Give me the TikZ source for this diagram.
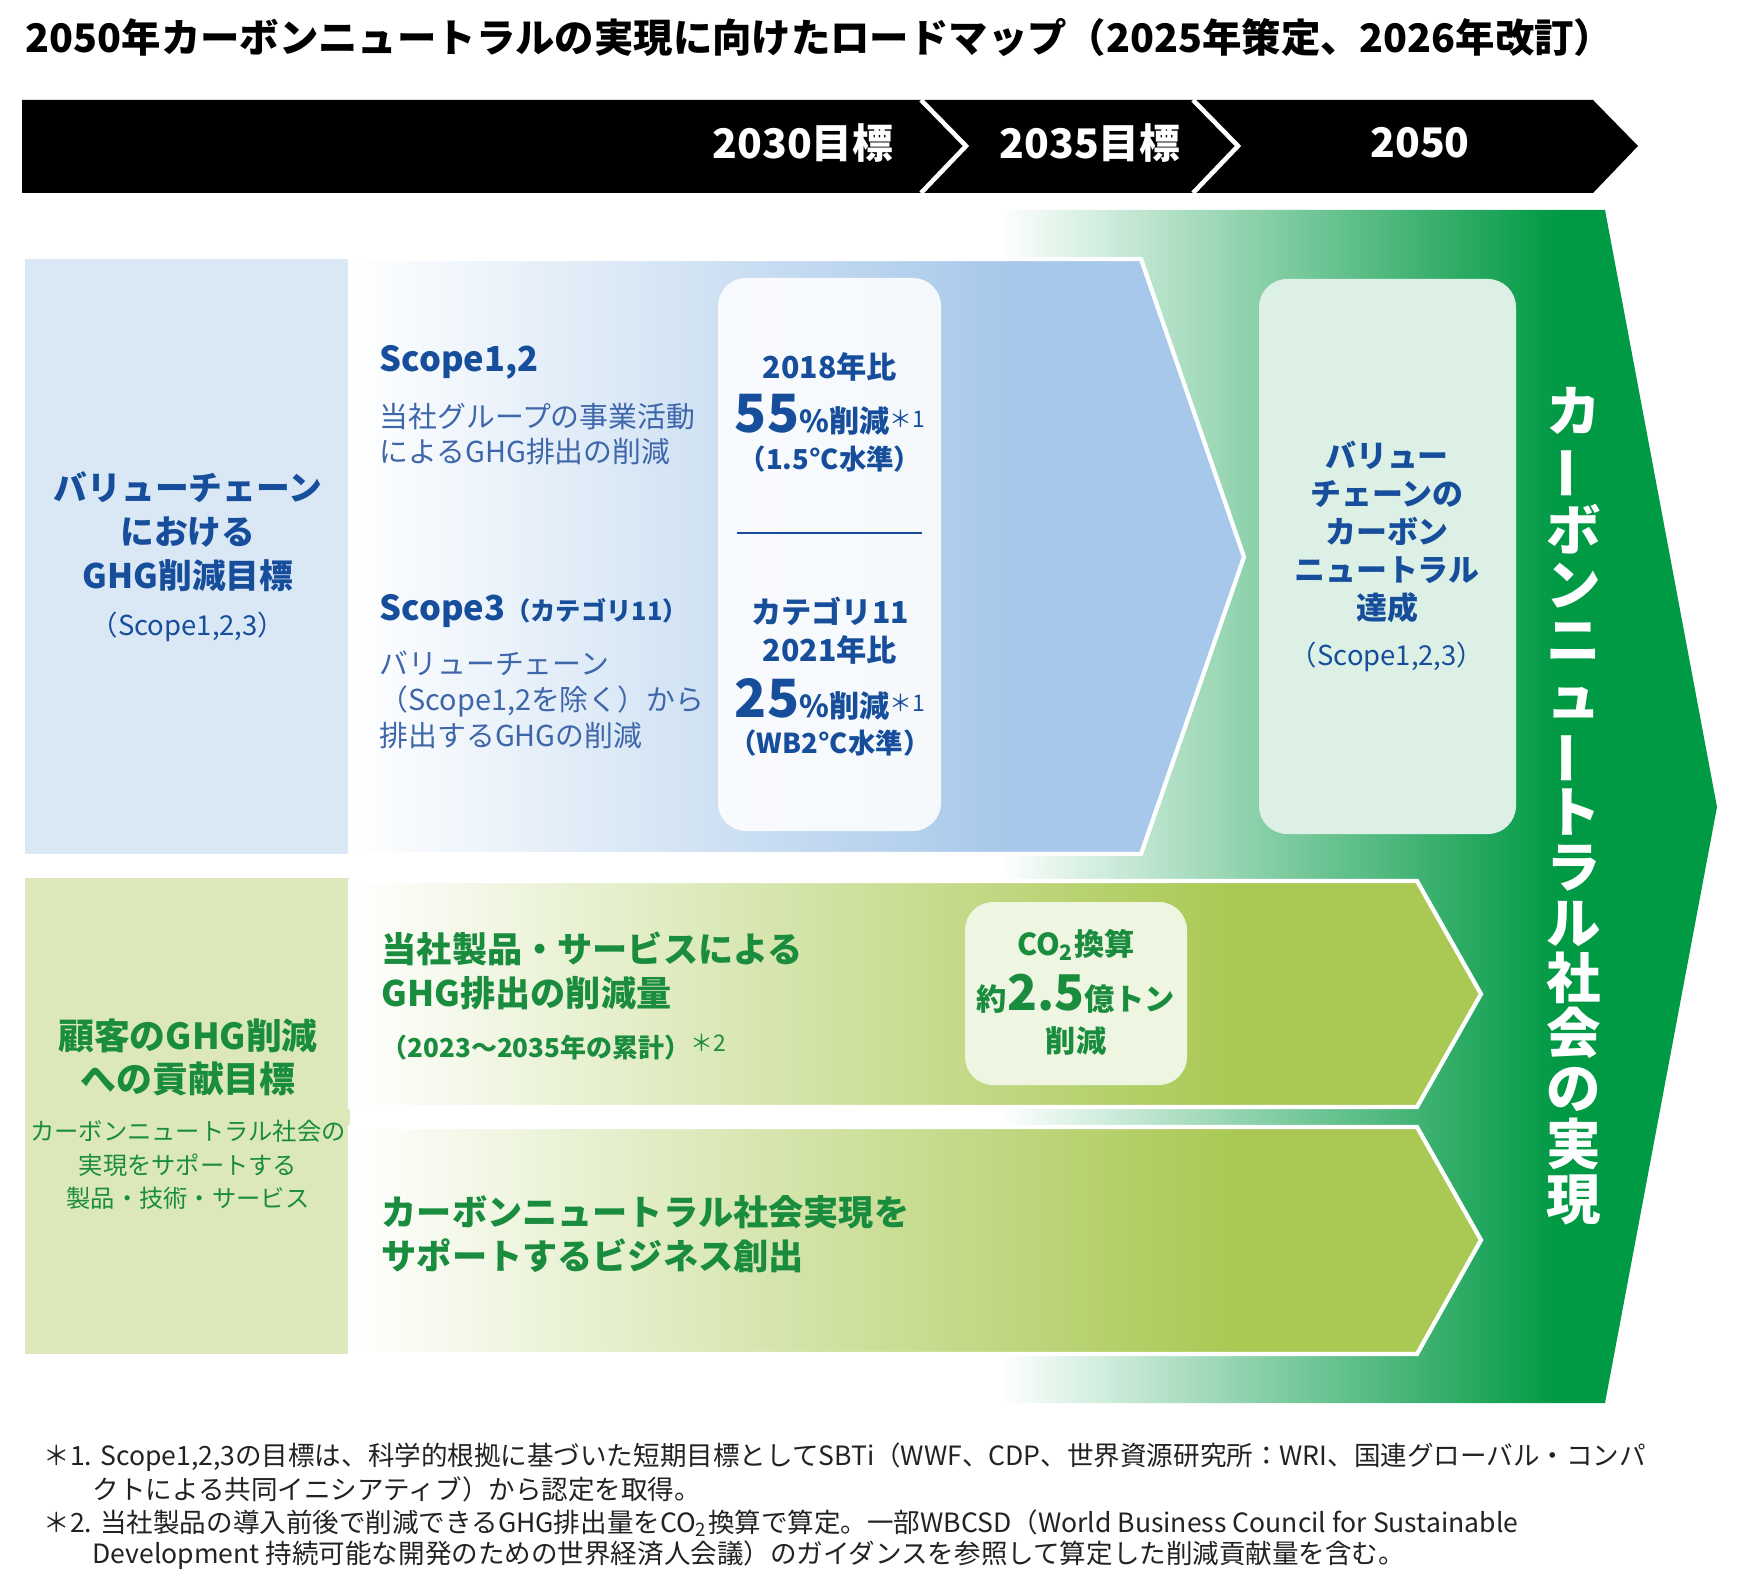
\documentclass[tikz,border=0pt]{standalone}
\usepackage{fontspec}
\setmainfont{Noto Sans CJK JP}
\usepackage{graphicx}
\usetikzlibrary{positioning,calc}

\definecolor{paleblue}{RGB}{218,232,246}
\definecolor{arrowblue}{RGB}{167,200,234}
\definecolor{darkblue}{RGB}{22,78,155}
\definecolor{midblue}{RGB}{62,102,170}
\definecolor{palegreen}{RGB}{220,232,185}
\definecolor{arrowgreen}{RGB}{169,201,84}
\definecolor{textgreen}{RGB}{26,140,62}
\definecolor{deepgreen}{RGB}{0,153,68}
\definecolor{mintbox}{RGB}{221,240,229}
\definecolor{limebox}{RGB}{238,245,225}
\definecolor{notegray}{RGB}{34,34,34}

\pgfdeclarehorizontalshading{bluefade}{100bp}{color(0bp)=(white); color(25bp)=(white); color(62bp)=(arrowblue); color(100bp)=(arrowblue)}
\pgfdeclarehorizontalshading{limefade}{100bp}{color(0bp)=(white); color(25bp)=(white); color(64bp)=(arrowgreen); color(100bp)=(arrowgreen)}
\pgfdeclarehorizontalshading{greenfade}{100bp}{color(0bp)=(white); color(25bp)=(white); color(64bp)=(deepgreen); color(100bp)=(deepgreen)}

\newcommand{\fsz}[2]{\fontsize{#1pt}{#2pt}\selectfont}
\newcommand{\vbar}{\rotatebox[origin=c]{90}{ー}}
\newcommand{\noteref}[1]{{\mdseries\fsz{6.5}{8}\raisebox{0.45ex}{#1}}}

\begin{document}
\begin{tikzpicture}[
    x=0.01cm, y=-0.01cm,
    every node/.style={inner sep=0pt},
    bar label/.style={text=white, font=\bfseries\fsz{11.6}{14}},
    blue head/.style={text=darkblue, font=\bfseries\fsz{9.6}{12.5}, align=center},
    blue note/.style={text=darkblue, font=\fsz{7.8}{9.5}, align=center},
    blue title/.style={text=darkblue, font=\bfseries\fsz{9.8}{12}, anchor=west},
    blue body/.style={text=midblue, font=\fsz{8.2}{10.2}, align=left, anchor=west},
    target text/.style={text=darkblue, font=\bfseries\fsz{8.6}{10}},
    big num/.style={text=darkblue, font=\bfseries\fsz{8.6}{10}},
    goal head/.style={text=darkblue, font=\bfseries\fsz{8.8}{10.8}, align=center},
    green head/.style={text=textgreen, font=\bfseries\fsz{10.2}{12.2}, align=center},
    green body/.style={text=textgreen, font=\fsz{6.9}{9.5}, align=center},
    lime title/.style={text=textgreen, font=\bfseries\fsz{10}{12.5}, align=left, anchor=west},
    co2 text/.style={text=textgreen, font=\bfseries\fsz{8.6}{10}},
    society text/.style={text=white, font=\bfseries\fsz{15.5}{15.7}, align=center},
    note line/.style={text=notegray, font=\fsz{7.55}{9}, anchor=west}
]
\useasboundingbox (0,0) rectangle (1757,1591);

% title
\node[anchor=west, font=\bfseries\fsz{11.2}{13}] (title) at (25,37)
    {2050年カーボンニュートラルの実現に向けたロードマップ（2025年策定、2026年改訂）};

% timeline bar
\fill[black] (22,100) -- (1593,100) -- (1638,146) -- (1593,193) -- (22,193) -- cycle;
\draw[white, line width=1.3pt] (921,100) -- (966,146) -- (921,193);
\draw[white, line width=1.3pt] (1193,100) -- (1238,146) -- (1193,193);
\node[bar label] (y2030) at (803,143) {2030目標};
\node[bar label] (y2035) at (1090,143) {2035目標};
\node[bar label] (y2050) at (1420,143) {2050};

% big green arrow
\shade[shading=greenfade] (1000,210) -- (1605,210) -- (1717,807) -- (1605,1403) -- (1000,1403) -- cycle;

% value chain row
\fill[paleblue] (25,259) rectangle (350,854);
\shade[shading=bluefade, draw=white, line width=1.2pt]
    (350,259) -- (1141,259) -- (1244,557) -- (1141,854) -- (350,854) -- cycle;
\fill[white, opacity=0.88, rounded corners=8pt] (718,278) rectangle (941,831);
\draw[darkblue, line width=0.6pt] (737,533) -- (922,533);

\node[blue head] (vchead) at (188,532) {バリューチェーン\\における\\GHG削減目標};
\node[blue note] (vcnote) at (188,627) {（Scope1,2,3）};

\node[blue title] (s12) at (379,362) {Scope1,2};
\node[blue body] (s12body) at (379,434) {当社グループの事業活動\\によるGHG排出の削減};
\node[blue title] (s3) at (379,611) {Scope3{\fsz{7.2}{10}（カテゴリ11）}};
\node[blue body] (s3body) at (379,700) {バリューチェーン\\（Scope1,2を除く）から\\排出するGHGの削減};

\node[target text] (base18) at (830,367) {2018年比};
\node[big num] (cut55) at (830,415) {{\fsz{15}{16}55}{\fsz{8.6}{10}\%削減}\noteref{＊1}};
\node[target text, font=\bfseries\fsz{7.8}{9}] (lvl15) at (830,459) {（1.5°C水準）};
\node[target text] (cat11) at (830,611) {カテゴリ11};
\node[target text] (base21) at (830,650) {2021年比};
\node[big num] (cut25) at (830,699) {{\fsz{15}{16}25}{\fsz{8.6}{10}\%削減}\noteref{＊1}};
\node[target text, font=\bfseries\fsz{7.8}{9}] (lvlwb2) at (830,743) {（WB2°C水準）};

% value chain goal box
\fill[mintbox, rounded corners=8pt] (1259,279) rectangle (1516,834);
\node[goal head] (vcgoal) at (1387,532) {バリュー\\チェーンの\\カーボン\\ニュートラル\\達成};
\node[blue note, font=\fsz{7.8}{9.5}] (vcgoalnote) at (1387,657) {（Scope1,2,3）};

% customer row
\fill[palegreen] (25,878) rectangle (350,1354);
\shade[shading=limefade, draw=white, line width=1.2pt]
    (350,881) -- (1417,881) -- (1481,994) -- (1417,1107) -- (350,1107) -- cycle;
\shade[shading=limefade, draw=white, line width=1.2pt]
    (350,1127) -- (1417,1127) -- (1481,1240) -- (1417,1354) -- (350,1354) -- cycle;
\fill[limebox, rounded corners=8pt] (965,902) rectangle (1187,1085);

\node[green head] (cushead) at (188,1057) {顧客のGHG削減\\への貢献目標};
\node[green body] (cusbody) at (188,1165) {カーボンニュートラル社会の\\実現をサポートする\\製品・技術・サービス};

\node[lime title] (prodcut) at (381,971) {当社製品・サービスによる\\GHG排出の削減量};
\node[anchor=west, text=textgreen, font=\bfseries\fsz{7.4}{9}] (prodspan) at (381,1047)
    {（2023〜2035年の累計）\noteref{＊2}};
\node[lime title] (newbiz) at (381,1234) {カーボンニュートラル社会実現を\\サポートするビジネス創出};

\node[co2 text] (co2a) at (1076,945) {CO\textsubscript{2}換算};
\node[co2 text] (co2b) at (1076,994) {約{\fsz{14}{15}2.5}億トン};
\node[co2 text] (co2c) at (1076,1041) {削減};

% vertical goal text
\node[society text] (society) at (1574,806)
    {カ\\\vbar\\ボ\\ン\\ニ\\ュ\\\vbar\\ト\\ラ\\ル\\社\\会\\の\\実\\現};

% footnotes
\node[note line] (note1a) at (43,1457)
    {＊1. Scope1,2,3の目標は、科学的根拠に基づいた短期目標としてSBTi（WWF、CDP、世界資源研究所：WRI、国連グローバル・コンパ};
\node[note line] (note1b) at (92,1489) {クトによる共同イニシアティブ）から認定を取得。};
\node[note line] (note2a) at (43,1523)
    {＊2. 当社製品の導入前後で削減できるGHG排出量をCO\textsubscript{2}換算で算定。一部WBCSD（World Business Council for Sustainable};
\node[note line] (note2b) at (92,1555)
    {Development 持続可能な開発のための世界経済人会議）のガイダンスを参照して算定した削減貢献量を含む。};
\end{tikzpicture}
\end{document}
